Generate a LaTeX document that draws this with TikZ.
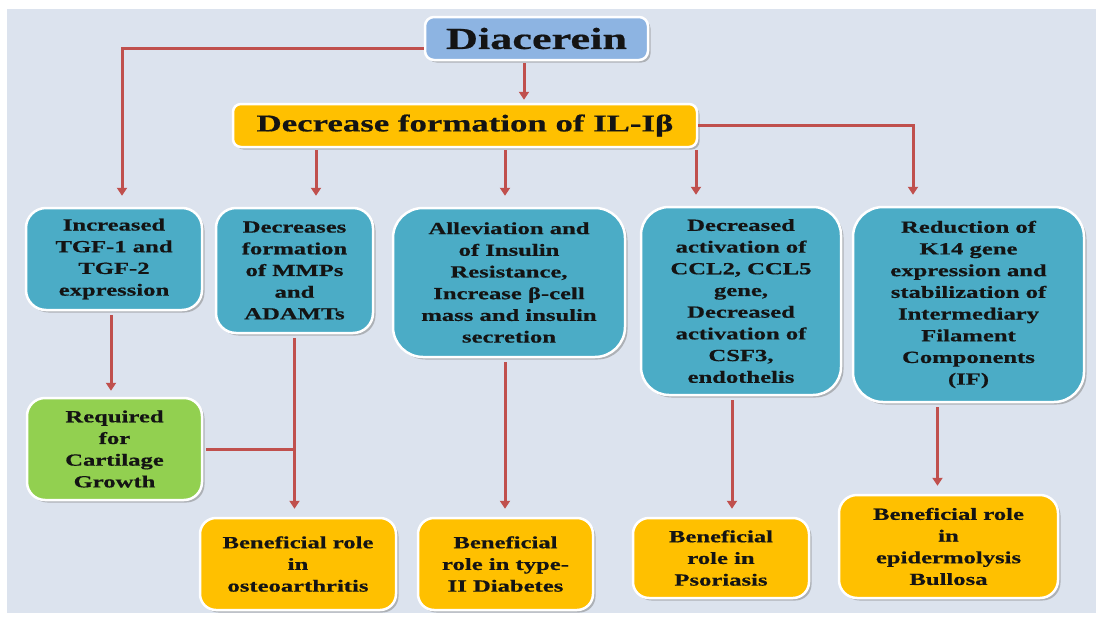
\documentclass[tikz,border=0pt]{standalone}
\usepackage{fontspec}
\setmainfont{Liberation Serif}[FakeStretch=1.45, BoldFeatures={FakeBold=0.6}]
\usetikzlibrary{arrows.meta,shadows}
\definecolor{bgc}{HTML}{DCE3EE}
\definecolor{teal}{HTML}{4BACC6}
\definecolor{orng}{HTML}{FFC000}
\definecolor{grn}{HTML}{92D050}
\definecolor{blu}{HTML}{8DB4E2}
\definecolor{arr}{HTML}{C0504D}
\definecolor{txt}{HTML}{141414}
\tikzset{
  box/.style={draw=white, line width=2.5pt, rounded corners=#1, align=center, text=txt,
    inner sep=0pt, font=\bfseries\fontsize{17}{21.7}\selectfont,
    drop shadow={shadow xshift=2.5pt, shadow yshift=-2.5pt, fill=black!50, opacity=0.5}},
  tealbox/.style={box=#1, fill=teal},
  orbox/.style={box=#1, fill=orng},
  link/.style={draw=arr, line width=3pt},
  arrw/.style={link, -{Triangle[length=8pt,width=10pt]}, shorten >=8pt},
}
\begin{document}
\begin{tikzpicture}[x=1pt,y=-1pt]
\useasboundingbox (0,0) rectangle (1098,621);
\fill[white] (0,0) rectangle (1098,621);
\fill[bgc] (7,9) rectangle (1096,613);

\node[box=9pt, fill=blu, minimum width=223pt, minimum height=43pt,
      font=\bfseries\fontsize{30.5}{32}\selectfont] (dia) at (536.5,38.5) {Diacerein};
\node[orbox=8pt, minimum width=464pt, minimum height=43pt,
      font=\bfseries\fontsize{24}{26}\selectfont] (il) at (465,125.5) {Decrease formation of IL-I\char"03B2};

\node[tealbox=20pt, minimum width=176pt, minimum height=102pt] (b1) at (114,259)
  {Increased\\TGF-1 and\\TGF-2\\expression};
\node[tealbox=20pt, minimum width=157pt, minimum height=125pt] (b2) at (294.5,270.5)
  {Decreases\\formation\\of MMPs\\and\\ADAMTs};
\node[tealbox=30pt, minimum width=232pt, minimum height=149pt] (b3) at (509,282.5)
  {Alleviation and\\of Insulin\\Resistance,\\Increase \char"03B2-cell\\mass and insulin\\secretion};
\node[tealbox=28pt, minimum width=200pt, minimum height=188pt] (b4) at (741,301)
  {Decreased\\activation of\\CCL2, CCL5\\gene,\\Decreased\\activation of\\CSF3,\\endothelis};
\node[tealbox=30pt, minimum width=231pt, minimum height=195pt] (b5) at (968.5,304.5)
  {Reduction of\\K14 gene\\expression and\\stabilization of\\Intermediary\\Filament\\Components\\(IF)};

\node[box=18pt, fill=grn, minimum width=175pt, minimum height=102pt] (gr) at (114.5,449)
  {Required\\for\\Cartilage\\Growth};

\node[orbox=16pt, minimum width=196pt, minimum height=92pt] (os) at (298,564)
  {Beneficial role\\in\\osteoarthritis};
\node[orbox=16pt, minimum width=175pt, minimum height=92pt] (di) at (505.5,564)
  {Beneficial\\role in type-\\II Diabetes};
\node[orbox=16pt, minimum width=176pt, minimum height=80pt] (ps) at (721,558)
  {Beneficial\\role in\\Psoriasis};
\node[orbox=18pt, minimum width=219pt, minimum height=103pt] (ep) at (948.5,546.5)
  {Beneficial role\\in\\epidermolysis\\Bullosa};

% top connectors
\draw[arrw, shorten >=11pt] ([yshift=-9.5pt]dia.west) -| ([xshift=8pt]b1.north);
\draw[arrw, shorten >=3pt, shorten <=2pt] ([xshift=-12.5pt]dia.south) -- ([xshift=-12.5pt]dia.south |- il.north);
\draw[arrw, shorten >=11pt] (il.east) -| ([xshift=-55.5pt]b5.north);
\draw[arrw, shorten >=11pt, shorten <=2pt] ([xshift=21.5pt]b2.north |- il.south) -- ([xshift=21.5pt]b2.north);
\draw[arrw, shorten >=11pt, shorten <=2pt] ([xshift=-4pt]b3.north |- il.south) -- ([xshift=-4pt]b3.north);
\draw[arrw, shorten >=11pt, shorten <=2pt] ([xshift=-45pt]b4.north |- il.south) -- ([xshift=-45pt]b4.north);

% lower connectors
\draw[arrw, shorten <=4pt, shorten >=6pt] ([xshift=-3pt]b1.south) -- ([xshift=-3pt]b1.south |- gr.north);
\draw[arrw, shorten <=4pt] (b2.south) -- (b2.south |- os.north);
\draw[link, shorten <=3pt] (gr.east) -- (gr.east -| b2.south);
\draw[arrw, shorten <=4pt] ([xshift=-4pt]b3.south) -- ([xshift=-4pt]b3.south |- di.north);
\draw[arrw, shorten <=4pt] ([xshift=-9pt]b4.south) -- ([xshift=-9pt]b4.south |- ps.north);
\draw[arrw, shorten <=4pt] ([xshift=-31pt]b5.south) -- ([xshift=-31pt]b5.south |- ep.north);
\end{tikzpicture}
\end{document}
